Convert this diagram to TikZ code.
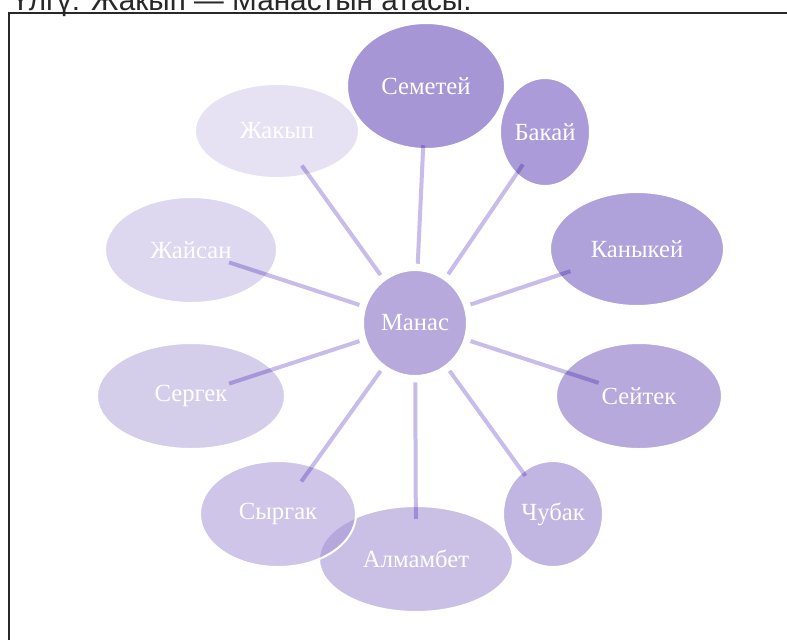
\documentclass[tikz,border=0pt]{standalone}
\usepackage{fontspec}
\setmainfont{Liberation Serif}
\newfontfamily\titlefont{Liberation Sans}
\usetikzlibrary{shapes.geometric,calc}
\definecolor{heropurple}{RGB}{95,65,180}
\definecolor{spokecolor}{RGB}{200,188,235}
\definecolor{framegray}{RGB}{40,40,40}
\tikzset{
  hero/.style={ellipse, draw=white, line width=1.5pt, fill opacity=0.55, text opacity=1, text=white, inner sep=0pt, font=\fontsize{18.5}{20}\selectfont},
  spoke/.style={draw=spokecolor, line width=3pt, blend mode=multiply, shorten <=4pt}
}

\begin{document}
\begin{tikzpicture}[x=0.75pt,y=-0.75pt]
	\clip (0,0) rectangle (787,640);
	\fill[white] (0,0) rectangle (787,640);
	% frame and cut title
	\draw[framegray, line width=1.1pt] (9,640) -- (9,13) -- (787,13);
	\node[anchor=base west, inner sep=0pt, font=\titlefont\fontsize{22.3}{24}\selectfont, text=framegray] (title) at (12,10) {Үлгү: Жакып — Манастын атасы.};
	% centre
	\node[hero, fill=heropurple!82, minimum width=78pt, minimum height=79.5pt] (manas) at (415,323) {Манас};
	% ring
	\node[hero, fill=heropurple, minimum width=118.5pt, minimum height=94.5pt] (semetey) at (426,86) {Семетей};
	\node[hero, fill=heropurple!95, minimum width=67.5pt, minimum height=81pt] (bakay) at (545,132) {Бакай};
	\node[hero, fill=heropurple!90, minimum width=130.5pt, minimum height=85.5pt] (kanykey) at (637,249) {Каныкей};
	\node[hero, fill=heropurple!82, minimum width=124.5pt, minimum height=79.5pt] (seytek) at (639,396) {Сейтек};
	\node[hero, fill=heropurple!70, minimum width=75pt, minimum height=79.5pt] (chubak) at (553,514) {Чубак};
	\node[hero, fill=heropurple!60, minimum width=145.5pt, minimum height=79.5pt] (almambet) at (416,559) {Алмамбет};
	\node[hero, fill=heropurple!55, minimum width=117pt, minimum height=79.5pt] (syrgak) at (278,514) {Сыргак};
	\node[hero, fill=heropurple!47, minimum width=141pt, minimum height=79.5pt] (sergek) at (191,396) {Сергек};
	\node[hero, fill=heropurple!38, minimum width=129pt, minimum height=79.5pt] (jaysan) at (191,250) {Жайсан};
	\node[hero, fill=heropurple!28, minimum width=123pt, minimum height=70.5pt] (jakyp) at (277,131) {Жакып};
	% spokes
	\foreach \hero/\f in {jakyp/0.18, semetey/0.25, bakay/0.17, kanykey/0.3, seytek/0.18, chubak/0.2, almambet/0.17, syrgak/0.17, sergek/0.17, jaysan/0.17}
	{
		\draw[spoke] (manas) -- ($(\hero)!\f!(manas)$);
	}
\end{tikzpicture}
\end{document}
